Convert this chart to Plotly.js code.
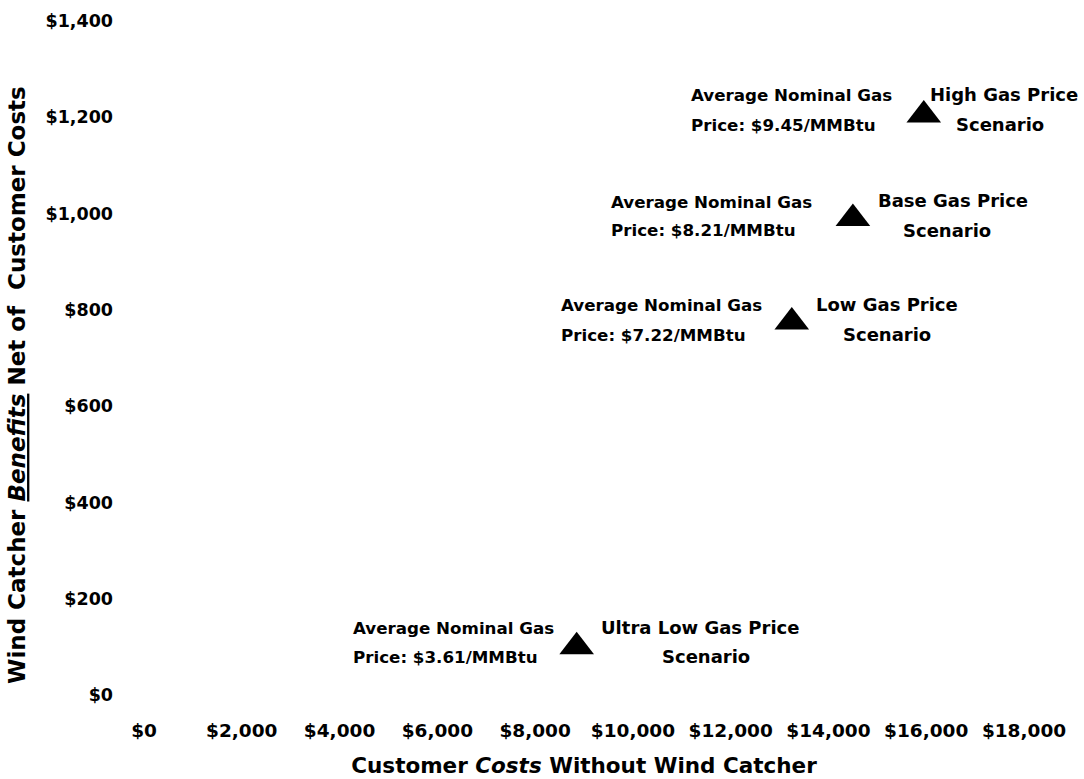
<!DOCTYPE html>
<html><head><meta charset="utf-8">
<script src="https://cdn.plot.ly/plotly-3.0.1.min.js"></script>
<style>html,body{margin:0;padding:0;background:#fff}#chart{width:1084px;height:779px}</style>
</head><body><div id="chart"></div>
<script>
// ---- data ----
const scenarioNames = ['Ultra Low Gas Price', 'Low Gas Price', 'Base Gas Price', 'High Gas Price'];
const customerCosts = [8850, 13250, 14500, 15950];      // x: Customer Costs Without Wind Catcher
const netBenefits   = [100, 775, 990, 1205];            // y: Wind Catcher Benefits Net of Customer Costs
const gasPrices     = ['$3.61', '$7.22', '$8.21', '$9.45'];
const xTickValues   = [0, 2000, 4000, 6000, 8000, 10000, 12000, 14000, 16000, 18000];
const yTickValues   = [0, 200, 400, 600, 800, 1000, 1200, 1400];
const money = v => '$' + v.toLocaleString('en-US');
const xTickLabels = xTickValues.map(money);
const yTickLabels = yTickValues.map(money);

// ---- label placement (pixel offsets from each marker) ----
const labelPlacement = [
  {left: -225, r1: 123, r2: 129, dy1: -19, dy2: 10},
  {left: -232, r1: 95,  r2: 95,  dy1: -17, dy2: 13},
  {left: -243, r1: 100, r2: 94,  dy1: -16, dy2: 12, rdy1: -18},
  {left: -234, r1: 80,  r2: 76,  dy1: -20, dy2: 10}
];

const FONT = 'DejaVu Sans';
const annotations = [];
customerCosts.forEach((xv, i) => {
  const p = labelPlacement[i];
  const base = {x: xv, y: netBenefits[i], xref: 'x', yref: 'y', showarrow: false,
                yanchor: 'middle', borderpad: 0};
  const leftFont = {family: FONT, size: 16.7, color: '#000', weight: 'bold'};
  const rightFont = {family: FONT, size: 18, color: '#000', weight: 'bold'};
  annotations.push(Object.assign({}, base, {text: 'Average Nominal Gas', xanchor: 'left',
    xshift: p.left, yshift: -p.dy1, font: leftFont}));
  annotations.push(Object.assign({}, base, {text: 'Price: ' + gasPrices[i] + '/MMBtu', xanchor: 'left',
    xshift: p.left, yshift: -p.dy2, font: leftFont}));
  annotations.push(Object.assign({}, base, {text: scenarioNames[i], xanchor: 'center',
    xshift: p.r1, yshift: -(p.rdy1 !== undefined ? p.rdy1 : p.dy1), font: rightFont}));
  annotations.push(Object.assign({}, base, {text: 'Scenario', xanchor: 'center',
    xshift: p.r2, yshift: -p.dy2, font: rightFont}));
});

// y-axis title (placed as a rotated annotation to match the reference position)
annotations.push({
  text: 'Wind Catcher <u><i>Benefits</i></u> Net of\u00A0 Customer Costs',
  xref: 'paper', yref: 'paper', x: -0.1443, y: 0.46, xanchor: 'center', yanchor: 'middle',
  textangle: -90, showarrow: false,
  font: {family: FONT, size: 23, color: '#000', weight: 'bold'}
});

const trace = {
  type: 'scatter', mode: 'markers',
  x: customerCosts, y: netBenefits,
  text: scenarioNames, hoverinfo: 'text+x+y',
  marker: {symbol: 'triangle-up', size: 30, color: '#000'}
};

const layout = {
  width: 1084, height: 779,
  margin: {l: 144, r: 60, t: 21, b: 84},
  paper_bgcolor: '#fff', plot_bgcolor: '#fff',
  showlegend: false,
  font: {family: FONT, color: '#000'},
  xaxis: {
    range: [0, 18000], tickmode: 'array', tickvals: xTickValues, ticktext: xTickLabels,
    showgrid: false, zeroline: false, showline: false, ticks: '',
    ticklabelstandoff: 22,
    tickfont: {family: FONT, size: 18.5, color: '#000', weight: 'bold'},
    title: {text: 'Customer <i>Costs</i> Without Wind Catcher', standoff: 18,
            font: {family: FONT, size: 21.5, color: '#000', weight: 'bold'}}
  },
  yaxis: {
    range: [0, 1400], tickmode: 'array', tickvals: yTickValues, ticktext: yTickLabels,
    showgrid: false, zeroline: false, showline: false, ticks: '',
    ticklabelstandoff: 30,
    tickfont: {family: FONT, size: 17.5, color: '#000', weight: 'bold'}
  },
  annotations: annotations
};

Plotly.newPlot('chart', [trace], layout, {displayModeBar: false, staticPlot: true});
</script>
</body></html>
